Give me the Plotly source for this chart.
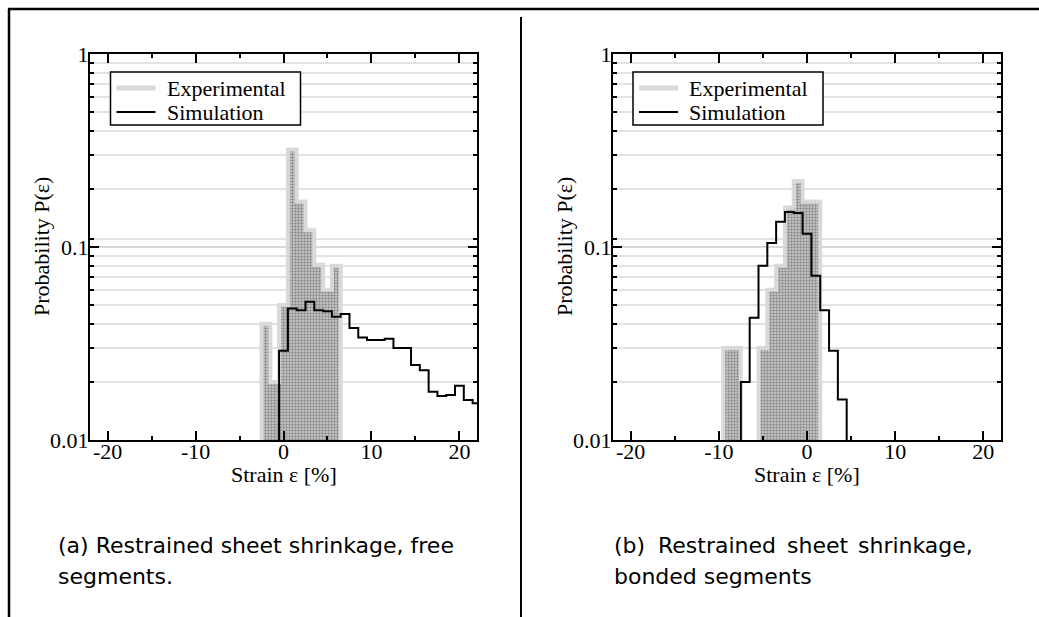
import plotly.graph_objects as go

W, H = 1039, 617

# ---------------- data ----------------
bin_width = 1.0  # strain bins of 1 %

# (a) free segments
exp_a_centers = [-2, -1, 0, 1, 2, 3, 4, 5, 6]
exp_a_values = [0.040, 0.020, 0.050, 0.32, 0.172, 0.122, 0.081, 0.060, 0.080]
sim_a_centers = [0, 1, 2, 3, 4, 5, 6, 7, 8, 9, 10, 11, 12, 13, 14, 15, 16, 17, 18, 19, 20, 21, 22]
sim_a_values = [0.029, 0.048, 0.047, 0.052, 0.047, 0.0465, 0.0435, 0.045, 0.038, 0.034, 0.033,
                0.033, 0.0335, 0.030, 0.030, 0.0245, 0.023, 0.0178, 0.0169, 0.0171, 0.0191,
                0.0161, 0.0155]

# (b) bonded segments
exp_b_centers = [-9, -8, -7, -6, -5, -4, -3, -2, -1, 0, 1]
exp_b_values = [0.030, 0.030, 0.0, 0.0, 0.030, 0.060, 0.080, 0.160, 0.220, 0.172, 0.172]
sim_b_centers = [-7, -6, -5, -4, -3, -2, -1, 0, 1, 2, 3, 4]
sim_b_values = [0.020, 0.043, 0.080, 0.105, 0.135, 0.152, 0.150, 0.117, 0.071, 0.047, 0.029, 0.0162]

x_tick_vals = [-20, -10, 0, 10, 20]
x_tick_text = ["-20", "-10", "0", "10", "20"]
x_minor_vals = [-15, -5, 5, 15]
y_tick_vals = [0.01, 0.1, 1]
y_tick_text = ["0.01", "0.1", "1"]
y_minor_vals = [0.02, 0.03, 0.04, 0.05, 0.06, 0.07, 0.08, 0.09, 0.11,
                0.2, 0.3, 0.4, 0.5, 0.6, 0.7, 0.8, 0.9]

legend_names = ["Experimental", "Simulation"]
captions_a = ["(a) Restrained sheet shrinkage, free", "segments."]
captions_b_words = ["(b)", "Restrained", "sheet", "shrinkage,"]
caption_b_line2 = "bonded segments"
x_title = "Strain ε [%]"
y_title = "Probability P(ε)"

FLOOR = 1e-3  # below the visible range -> bars reach the axis
SERIF = "Liberation Serif"
SANS = "DejaVu Sans"
EXP_EDGE = "#d9d9d9"


def hist_polygon(centers, values):
    xs, ys = [centers[0] - bin_width / 2], [FLOOR]
    for c, v in zip(centers, values):
        v = v if v > 0 else FLOOR
        xs += [c - bin_width / 2, c + bin_width / 2]
        ys += [v, v]
    xs.append(centers[-1] + bin_width / 2)
    ys.append(FLOOR)
    return xs, ys


def step_line(centers, values):
    xs, ys = [centers[0] - bin_width / 2], [FLOOR]
    for c, v in zip(centers, values):
        xs.append(c - bin_width / 2)
        ys.append(v)
    xs.append(centers[-1] + bin_width / 2)
    ys.append(FLOOR)
    return xs, ys


def px_x(p):
    return p / W


def px_y(p):
    return 1 - p / H


fig = go.Figure()

panels = [
    dict(exp=(exp_a_centers, exp_a_values), sim=(sim_a_centers, sim_a_values),
         xa="x", ya="y", name="(a)"),
    dict(exp=(exp_b_centers, exp_b_values), sim=(sim_b_centers, sim_b_values),
         xa="x2", ya="y2", name="(b)"),
]

for p in panels:
    ex, ey = hist_polygon(*p["exp"])
    fig.add_trace(go.Scatter(
        x=ex, y=ey, xaxis=p["xa"], yaxis=p["ya"], mode="lines", fill="toself",
        fillcolor="#b5b5b5",
        fillpattern=dict(shape=".", fgcolor="#4a4a4a", bgcolor="#cdcdcd", size=3, solidity=0.5),
        line=dict(color=EXP_EDGE, width=4), name=legend_names[0] + " " + p["name"],
        showlegend=False, hoverinfo="skip"))
    sx, sy = step_line(*p["sim"])
    fig.add_trace(go.Scatter(
        x=sx, y=sy, xaxis=p["xa"], yaxis=p["ya"], mode="lines", line_shape="hv",
        line=dict(color="black", width=2), name=legend_names[1] + " " + p["name"],
        showlegend=False))

tickfont = dict(family=SERIF, size=22, color="black")


def xaxis_cfg(domain, anchor):
    return dict(domain=domain, anchor=anchor, range=[-22, 22], automargin=False,
                tickmode="array", tickvals=x_tick_vals, ticktext=x_tick_text,
                ticks="inside", ticklen=9, tickwidth=2, tickcolor="black",
                minor=dict(tickmode="array", tickvals=x_minor_vals, ticks="inside", ticklen=4,
                           tickwidth=2, tickcolor="black", showgrid=False),
                showline=True, linecolor="black", linewidth=2, mirror="allticks",
                showgrid=False, zeroline=False, tickfont=tickfont, ticklabelstandoff=-9)


def yaxis_cfg(domain, anchor):
    return dict(domain=domain, anchor=anchor, type="log", range=[-2, 0], automargin=False,
                tickmode="array", tickvals=y_tick_vals, ticktext=y_tick_text,
                ticks="inside", ticklen=9, tickwidth=2, tickcolor="black",
                minor=dict(tickmode="array", tickvals=y_minor_vals, ticks="inside", ticklen=4,
                           tickwidth=2, tickcolor="black", showgrid=True,
                           gridcolor="#e2e2e2", gridwidth=1.5),
                showline=True, linecolor="black", linewidth=2, mirror="allticks",
                showgrid=True, gridcolor="#d8d8d8", gridwidth=2, zeroline=False,
                tickfont=tickfont, ticklabelstandoff=-5)


ydom = [px_y(440), px_y(54)]
fig.update_layout(
    width=W, height=H, margin=dict(l=0, r=0, t=0, b=0, pad=0, autoexpand=False),
    paper_bgcolor="white", plot_bgcolor="white", showlegend=False,
    xaxis=xaxis_cfg([px_x(90), px_x(477)], "y"),
    yaxis=yaxis_cfg(ydom, "x"),
    xaxis2=xaxis_cfg([px_x(613), px_x(1001)], "y2"),
    yaxis2=yaxis_cfg(ydom, "x2"),
)

ann = []
shapes = []
serif = dict(family=SERIF, size=22, color="black")
sans = dict(family=SANS, size=22, color="black")

# axis titles
for cx in (283.5, 807):
    ann.append(dict(text=x_title, x=px_x(cx), y=px_y(475), xref="paper", yref="paper",
                    showarrow=False, xanchor="center", yanchor="middle", font=serif))
for cx in (41, 564):
    ann.append(dict(text=y_title, x=px_x(cx), y=px_y(247), xref="paper", yref="paper",
                    showarrow=False, xanchor="center", yanchor="middle", textangle=-90, font=serif))

# legends (one per panel)
for lx in (110.5, 633):
    shapes.append(dict(type="rect", xref="paper", yref="paper", x0=px_x(lx), x1=px_x(lx + 190),
                       y0=px_y(72), y1=px_y(125), fillcolor="white",
                       line=dict(color="black", width=1.5), layer="above"))
    shapes.append(dict(type="line", xref="paper", yref="paper", x0=px_x(lx + 6), x1=px_x(lx + 45),
                       y0=px_y(88), y1=px_y(88), line=dict(color=EXP_EDGE, width=5), layer="above"))
    shapes.append(dict(type="line", xref="paper", yref="paper", x0=px_x(lx + 6), x1=px_x(lx + 45),
                       y0=px_y(112), y1=px_y(112), line=dict(color="black", width=2), layer="above"))
    for name, ty in zip(legend_names, (88, 112)):
        ann.append(dict(text=name, x=px_x(lx + 54), y=px_y(ty), xref="paper", yref="paper",
                        showarrow=False, xanchor="left", yanchor="middle", font=serif))

# captions
ann.append(dict(text=captions_a[0], x=px_x(56), y=px_y(545), xref="paper", yref="paper",
                showarrow=False, xanchor="left", yanchor="middle", font=sans))
ann.append(dict(text=captions_a[1], x=px_x(56), y=px_y(576), xref="paper", yref="paper",
                showarrow=False, xanchor="left", yanchor="middle", font=sans))
word_pos = [(612, "left"), (656, "left"), (785, "left"), (975, "right")]
for w, (xp, anc) in zip(captions_b_words, word_pos):
    ann.append(dict(text=w, x=px_x(xp), y=px_y(545), xref="paper", yref="paper",
                    showarrow=False, xanchor=anc, yanchor="middle", font=sans))
ann.append(dict(text=caption_b_line2, x=px_x(612), y=px_y(576), xref="paper", yref="paper",
                showarrow=False, xanchor="left", yanchor="middle", font=sans))

frame = dict(color="black", width=2.5)
shapes += [
    dict(type="line", xref="paper", yref="paper", x0=px_x(8), x1=1, y0=px_y(9), y1=px_y(9), line=frame),
    dict(type="line", xref="paper", yref="paper", x0=px_x(9), x1=px_x(9), y0=px_y(9), y1=0, line=frame),
    dict(type="line", xref="paper", yref="paper", x0=px_x(521), x1=px_x(521), y0=px_y(17), y1=0,
         line=dict(color="black", width=2)),
]
fig.update_layout(annotations=ann, shapes=shapes)

fig.write_html("out.html")
